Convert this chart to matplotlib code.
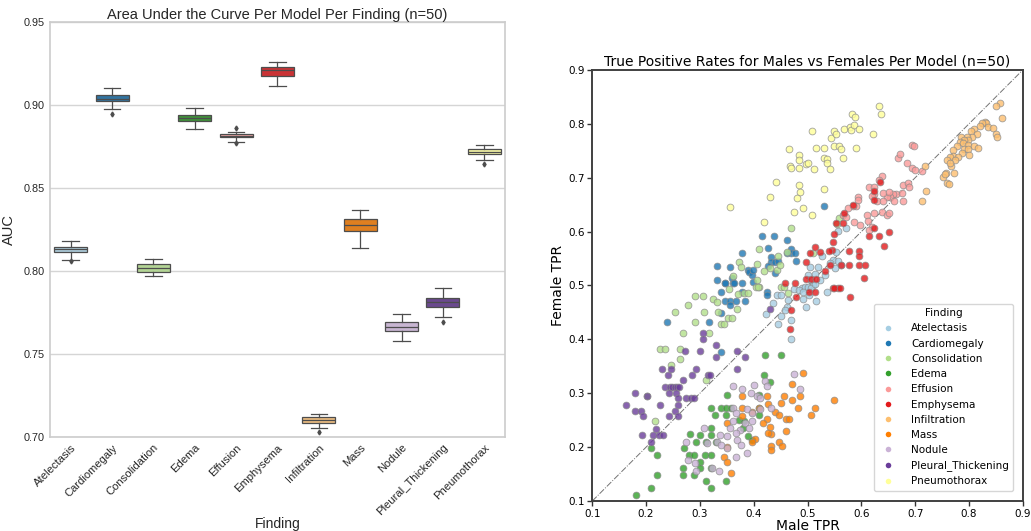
import colorsys
import matplotlib
matplotlib.use('Agg')
import matplotlib.pyplot as plt
from matplotlib.lines import Line2D


findings = ['Atelectasis', 'Cardiomegaly', 'Consolidation', 'Edema', 'Effusion', 'Emphysema',
            'Infiltration', 'Mass', 'Nodule', 'Pleural_Thickening', 'Pneumothorax']

# AUC box summaries
auc_med = [0.813, 0.9035, 0.802, 0.8921, 0.8815, 0.921, 0.7104, 0.8278, 0.7663, 0.7814, 0.8719]
auc_q1 = [0.8114, 0.9023, 0.7997, 0.8903, 0.8805, 0.9172, 0.7086, 0.8242, 0.7641, 0.7785, 0.8703]
auc_q3 = [0.8144, 0.9058, 0.8042, 0.8941, 0.8823, 0.9232, 0.7120, 0.8314, 0.7693, 0.7839, 0.8737]
auc_lo = [0.8068, 0.8977, 0.7972, 0.8855, 0.8779, 0.9112, 0.7056, 0.8140, 0.7577, 0.7725, 0.8667]
auc_hi = [0.8178, 0.9100, 0.8074, 0.8983, 0.8839, 0.9260, 0.7138, 0.8366, 0.7741, 0.7895, 0.8757]
auc_fliers = [[0.8058], [0.8945], [], [], [0.8859, 0.8769], [], [0.7030], [], [], [0.7693], [0.8645]]

# male / female TPR per model
atel_m = [0.557, 0.571, 0.552, 0.548, 0.557, 0.542, 0.562, 0.551, 0.526, 0.520, 0.532, 0.523, 0.514, 0.507,
          0.501, 0.511, 0.489, 0.495, 0.474, 0.505, 0.435, 0.422, 0.444, 0.450, 0.451, 0.446, 0.464, 0.461,
          0.458, 0.469, 0.469, 0.485, 0.492, 0.497, 0.501, 0.503, 0.507, 0.514, 0.516, 0.537, 0.492]
atel_f = [0.602, 0.606, 0.562, 0.548, 0.545, 0.542, 0.538, 0.532, 0.555, 0.535, 0.519, 0.511, 0.521, 0.511,
          0.519, 0.500, 0.496, 0.498, 0.494, 0.535, 0.468, 0.447, 0.483, 0.483, 0.444, 0.428, 0.473, 0.460,
          0.454, 0.436, 0.400, 0.492, 0.475, 0.460, 0.498, 0.483, 0.495, 0.503, 0.472, 0.488, 0.487]
card_m = [0.531, 0.415, 0.437, 0.462, 0.470, 0.470, 0.462, 0.476, 0.478, 0.426, 0.432, 0.432, 0.378, 0.355,
          0.331, 0.331, 0.347, 0.359, 0.361, 0.389, 0.392, 0.396, 0.399, 0.399, 0.426, 0.439, 0.446, 0.439,
          0.347, 0.364, 0.378, 0.339, 0.347, 0.355, 0.355, 0.339, 0.316, 0.239, 0.340, 0.367, 0.378, 0.383,
          0.424, 0.424]
card_f = [0.648, 0.592, 0.592, 0.584, 0.568, 0.560, 0.560, 0.560, 0.545, 0.569, 0.552, 0.544, 0.561, 0.535,
          0.536, 0.511, 0.505, 0.513, 0.505, 0.529, 0.525, 0.519, 0.529, 0.507, 0.537, 0.543, 0.545, 0.523,
          0.504, 0.504, 0.504, 0.488, 0.472, 0.472, 0.464, 0.449, 0.432, 0.432, 0.376, 0.472, 0.488, 0.472,
          0.487, 0.483]
cons_m = [0.554, 0.559, 0.470, 0.462, 0.511, 0.410, 0.372, 0.376, 0.444, 0.448, 0.430, 0.419, 0.407, 0.409,
          0.362, 0.354, 0.450, 0.446, 0.406, 0.291, 0.306, 0.254, 0.277, 0.325, 0.331, 0.308, 0.291, 0.334,
          0.339, 0.344, 0.352, 0.359, 0.370, 0.381, 0.390, 0.369, 0.404, 0.408, 0.457, 0.464, 0.269, 0.316,
          0.226, 0.235, 0.263, 0.263, 0.246, 0.311, 0.201, 0.216]
cons_f = [0.614, 0.625, 0.607, 0.562, 0.561, 0.568, 0.543, 0.535, 0.529, 0.538, 0.532, 0.527, 0.511, 0.498,
          0.518, 0.493, 0.498, 0.555, 0.540, 0.481, 0.481, 0.450, 0.463, 0.475, 0.469, 0.450, 0.433, 0.450,
          0.428, 0.428, 0.439, 0.439, 0.485, 0.486, 0.486, 0.457, 0.498, 0.498, 0.498, 0.486, 0.412, 0.412,
          0.382, 0.382, 0.382, 0.364, 0.353, 0.325, 0.295, 0.249]
edema_m = [0.421, 0.450, 0.420, 0.431, 0.350, 0.321, 0.339, 0.348, 0.358, 0.348, 0.328, 0.373, 0.381, 0.409,
           0.410, 0.380, 0.321, 0.300, 0.282, 0.311, 0.292, 0.321, 0.329, 0.270, 0.279, 0.289, 0.310, 0.321,
           0.300, 0.300, 0.268, 0.268, 0.289, 0.321, 0.220, 0.210, 0.220, 0.210, 0.181, 0.311, 0.321, 0.348,
           0.390, 0.397, 0.409]
edema_f = [0.371, 0.371, 0.334, 0.321, 0.296, 0.272, 0.272, 0.272, 0.272, 0.260, 0.260, 0.251, 0.248, 0.272,
           0.260, 0.235, 0.235, 0.223, 0.224, 0.209, 0.209, 0.223, 0.210, 0.198, 0.186, 0.186, 0.186, 0.186,
           0.173, 0.162, 0.161, 0.149, 0.149, 0.161, 0.186, 0.198, 0.149, 0.124, 0.111, 0.137, 0.124, 0.137,
           0.221, 0.213, 0.296]
eff_m = [0.695, 0.697, 0.669, 0.672, 0.684, 0.695, 0.700, 0.712, 0.638, 0.633, 0.614, 0.624, 0.678, 0.687,
         0.689, 0.676, 0.665, 0.659, 0.654, 0.647, 0.641, 0.623, 0.619, 0.630, 0.640, 0.651, 0.661, 0.678,
         0.593, 0.593, 0.591, 0.585, 0.576, 0.566, 0.571, 0.586, 0.598, 0.610, 0.612, 0.619, 0.624, 0.638,
         0.647, 0.651, 0.615]
eff_f = [0.760, 0.759, 0.736, 0.744, 0.728, 0.719, 0.714, 0.713, 0.703, 0.695, 0.683, 0.683, 0.687, 0.691,
         0.683, 0.671, 0.669, 0.669, 0.665, 0.665, 0.671, 0.669, 0.666, 0.656, 0.657, 0.673, 0.656, 0.657,
         0.664, 0.659, 0.648, 0.648, 0.643, 0.631, 0.628, 0.617, 0.612, 0.631, 0.619, 0.609, 0.634, 0.636,
         0.631, 0.634, 0.603]
emph_m = [0.635, 0.624, 0.624, 0.568, 0.565, 0.553, 0.550, 0.548, 0.545, 0.540, 0.577, 0.596, 0.596, 0.578,
          0.563, 0.596, 0.607, 0.624, 0.633, 0.642, 0.652, 0.585, 0.615, 0.514, 0.523, 0.505, 0.497, 0.497,
          0.506, 0.516, 0.532, 0.542, 0.548, 0.557, 0.605, 0.477, 0.459, 0.478, 0.469, 0.467, 0.503, 0.514,
          0.550, 0.560, 0.579]
emph_f = [0.693, 0.675, 0.659, 0.634, 0.616, 0.616, 0.595, 0.581, 0.566, 0.564, 0.564, 0.564, 0.555, 0.538,
          0.538, 0.538, 0.538, 0.607, 0.591, 0.573, 0.599, 0.650, 0.591, 0.572, 0.562, 0.561, 0.544, 0.512,
          0.512, 0.512, 0.526, 0.538, 0.495, 0.495, 0.513, 0.504, 0.504, 0.478, 0.454, 0.419, 0.487, 0.487,
          0.496, 0.496, 0.478]
infil_m = [0.858, 0.850, 0.861, 0.829, 0.831, 0.824, 0.821, 0.836, 0.809, 0.803, 0.815, 0.806, 0.797, 0.798,
           0.785, 0.791, 0.783, 0.789, 0.799, 0.809, 0.817, 0.845, 0.850, 0.852, 0.778, 0.771, 0.791, 0.799,
           0.787, 0.800, 0.771, 0.779, 0.764, 0.774, 0.767, 0.760, 0.757, 0.752, 0.759, 0.773, 0.721, 0.712,
           0.718, 0.765, 0.755, 0.762]
infil_f = [0.838, 0.834, 0.810, 0.804, 0.802, 0.801, 0.796, 0.794, 0.790, 0.786, 0.782, 0.775, 0.775, 0.770,
           0.776, 0.770, 0.767, 0.764, 0.761, 0.759, 0.756, 0.792, 0.782, 0.776, 0.759, 0.751, 0.753, 0.754,
           0.745, 0.743, 0.740, 0.738, 0.738, 0.732, 0.722, 0.733, 0.708, 0.702, 0.691, 0.708, 0.676, 0.657,
           0.722, 0.728, 0.707, 0.689]
mass_m = [0.491, 0.471, 0.486, 0.457, 0.472, 0.550, 0.514, 0.483, 0.451, 0.424, 0.427, 0.378, 0.378, 0.396,
          0.409, 0.440, 0.447, 0.460, 0.466, 0.424, 0.417, 0.430, 0.432, 0.427, 0.460, 0.447, 0.452, 0.432,
          0.432, 0.402, 0.397, 0.378, 0.350, 0.345, 0.351, 0.358, 0.507, 0.350]
mass_f = [0.338, 0.317, 0.295, 0.295, 0.288, 0.288, 0.273, 0.273, 0.282, 0.295, 0.280, 0.295, 0.273, 0.266,
          0.272, 0.266, 0.260, 0.252, 0.252, 0.252, 0.244, 0.238, 0.224, 0.226, 0.230, 0.209, 0.202, 0.202,
          0.195, 0.215, 0.209, 0.257, 0.244, 0.181, 0.173, 0.152, 0.260, 0.201]
nod_m = [0.474, 0.486, 0.421, 0.424, 0.401, 0.379, 0.361, 0.395, 0.406, 0.411, 0.432, 0.362, 0.387, 0.367,
         0.396, 0.396, 0.383, 0.362, 0.356, 0.374, 0.367, 0.368, 0.377, 0.350, 0.338, 0.331, 0.340, 0.350,
         0.308, 0.313, 0.274, 0.278, 0.291, 0.293, 0.322, 0.335, 0.367, 0.387, 0.392, 0.411]
nod_f = [0.336, 0.308, 0.322, 0.314, 0.316, 0.308, 0.314, 0.300, 0.294, 0.291, 0.272, 0.272, 0.270, 0.263,
         0.263, 0.248, 0.244, 0.248, 0.235, 0.232, 0.226, 0.213, 0.204, 0.220, 0.223, 0.209, 0.204, 0.198,
         0.235, 0.207, 0.210, 0.176, 0.170, 0.155, 0.161, 0.155, 0.182, 0.190, 0.235, 0.270]
pleu_m = [0.430, 0.368, 0.369, 0.384, 0.330, 0.330, 0.306, 0.306, 0.301, 0.272, 0.293, 0.286, 0.315, 0.318,
          0.268, 0.241, 0.229, 0.247, 0.236, 0.244, 0.249, 0.253, 0.258, 0.262, 0.243, 0.255, 0.259, 0.275,
          0.283, 0.289, 0.259, 0.226, 0.202, 0.179, 0.163, 0.179, 0.190, 0.195, 0.218, 0.243, 0.253, 0.259,
          0.192, 0.213, 0.224, 0.232, 0.209]
pleu_f = [0.456, 0.379, 0.345, 0.367, 0.390, 0.367, 0.412, 0.400, 0.379, 0.379, 0.345, 0.333, 0.333, 0.333,
          0.324, 0.333, 0.345, 0.345, 0.311, 0.311, 0.311, 0.311, 0.311, 0.311, 0.300, 0.300, 0.291, 0.291,
          0.291, 0.291, 0.278, 0.278, 0.295, 0.300, 0.278, 0.267, 0.267, 0.257, 0.233, 0.257, 0.267, 0.257,
          0.223, 0.223, 0.223, 0.223, 0.210]
pneu_m = [0.356, 0.419, 0.430, 0.442, 0.465, 0.467, 0.470, 0.485, 0.485, 0.485, 0.485, 0.486, 0.480, 0.474,
          0.492, 0.497, 0.500, 0.508, 0.512, 0.516, 0.508, 0.531, 0.531, 0.531, 0.536, 0.537, 0.542, 0.543,
          0.550, 0.553, 0.550, 0.559, 0.563, 0.565, 0.567, 0.579, 0.580, 0.583, 0.589, 0.587, 0.595, 0.591,
          0.621, 0.633, 0.636]
pneu_f = [0.646, 0.617, 0.665, 0.693, 0.753, 0.721, 0.719, 0.743, 0.732, 0.719, 0.687, 0.674, 0.662, 0.637,
          0.643, 0.725, 0.728, 0.787, 0.716, 0.756, 0.631, 0.756, 0.737, 0.680, 0.734, 0.728, 0.717, 0.774,
          0.787, 0.781, 0.759, 0.759, 0.753, 0.737, 0.790, 0.795, 0.789, 0.818, 0.812, 0.798, 0.791, 0.756,
          0.781, 0.834, 0.818]

male_tpr = [atel_m, card_m, cons_m, edema_m, eff_m, emph_m, infil_m, mass_m, nod_m, pleu_m, pneu_m]
female_tpr = [atel_f, card_f, cons_f, edema_f, eff_f, emph_f, infil_f, mass_f, nod_f, pleu_f, pneu_f]

paired = plt.get_cmap('Paired').colors[:11]


def desat(c, prop=0.75):
    h, l, s = colorsys.rgb_to_hls(*c)
    return colorsys.hls_to_rgb(h, l, s * prop)


fig = plt.figure(figsize=(10.31, 5.31), dpi=100)

##### left: AUC boxplot
ax1 = fig.add_axes([0.0485, 0.177, 0.4413, 0.7815])
stats = []
for i in range(len(findings)):
    stats.append(dict(med=auc_med[i], q1=auc_q1[i], q3=auc_q3[i], whislo=auc_lo[i],
                      whishi=auc_hi[i], fliers=auc_fliers[i], label=findings[i]))
edge = '0.3'
bp = ax1.bxp(stats, positions=range(len(findings)), widths=0.8, patch_artist=True,
             boxprops=dict(edgecolor=edge, linewidth=0.9),
             medianprops=dict(color=edge, linewidth=0.9),
             whiskerprops=dict(color=edge, linewidth=0.9),
             capprops=dict(color=edge, linewidth=0.9),
             flierprops=dict(marker='d', markersize=2.5, markerfacecolor=edge, markeredgecolor=edge))
for patch, c in zip(bp['boxes'], paired):
    patch.set_facecolor(desat(c))
ax1.set_xlim(-0.5, 10.5)
ax1.set_ylim(0.70, 0.95)
ax1.set_yticks([0.70, 0.75, 0.80, 0.85, 0.90, 0.95])
ax1.set_yticklabels(['0.70', '0.75', '0.80', '0.85', '0.90', '0.95'], fontsize=7.8,
                    family=['Liberation Sans'], color='0.15')
ax1.set_xticks(range(len(findings)))
ax1.set_xticklabels(findings, rotation=45, ha='right', rotation_mode='anchor', fontsize=8.1,
                    family=['Liberation Sans'], color='0.15')
ax1.tick_params(length=0, pad=4)
ax1.yaxis.grid(True, color='#d5d5d5', linewidth=1)
ax1.set_axisbelow(True)
for sp in ax1.spines.values():
    sp.set_color('#cccccc')
    sp.set_linewidth(1.2)
ax1.set_title('Area Under the Curve Per Model Per Finding (n=50)', fontsize=10.5,
              family=['Liberation Sans'], color='0.15', pad=2)
ax1.set_ylabel('AUC', fontsize=10.5, family=['Liberation Sans'], color='0.15', labelpad=5)
ax1.set_xlabel('Finding', fontsize=10, family=['Liberation Sans'], color='0.15', labelpad=0)

##### right: male vs female TPR scatter
ax2 = fig.add_axes([0.5745, 0.0565, 0.4175, 0.8117])
ax2.plot([0.1, 0.9], [0.1, 0.9], color='0.45', linestyle='-.', linewidth=0.7, zorder=1)
for xs, ys, c in zip(male_tpr, female_tpr, paired):
    ax2.scatter(xs, ys, s=24, color=c, alpha=0.8, edgecolors='0.55', linewidths=0.6, zorder=2)
ax2.set_xlim(0.1, 0.9)
ax2.set_ylim(0.1, 0.9)
ticks = [0.1, 0.2, 0.3, 0.4, 0.5, 0.6, 0.7, 0.8, 0.9]
ax2.set_xticks(ticks)
ax2.set_yticks(ticks)
ax2.tick_params(labelsize=7.5, length=3.5, width=1, color='0.2', pad=2)
for sp in ax2.spines.values():
    sp.set_color('0.25')
    sp.set_linewidth(1.4)
ax2.set_title('True Positive Rates for Males vs Females Per Model (n=50)', fontsize=10, pad=3)
ax2.set_xlabel('Male TPR', fontsize=10, labelpad=0)
ax2.set_ylabel('Female TPR', fontsize=10, labelpad=2)

handles = [Line2D([], [], linestyle='', marker='o', markersize=4, color=c, markeredgewidth=0)
           for c in paired]
leg = ax2.legend(handles, findings, title='Finding', loc='lower right', fontsize=7.5,
                 title_fontsize=7.5, handletextpad=1.2, labelspacing=0.5, borderpad=0.4,
                 bbox_to_anchor=(0.99, 0.012))
leg.get_frame().set_edgecolor('#cccccc')

plt.savefig('out.png', dpi=100)
